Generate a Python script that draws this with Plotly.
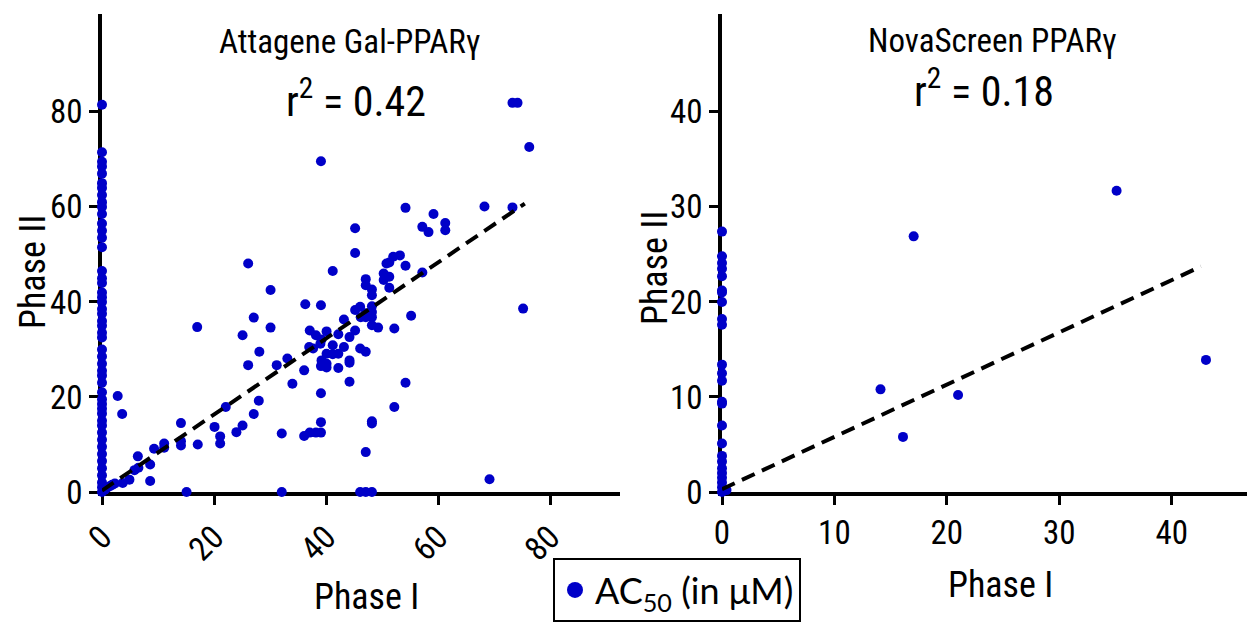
import numpy as np
import plotly.graph_objects as go

# ---------------- data ----------------
# Attagene Gal-PPARg : chemicals with Phase I AC50 = 0 (only active in Phase II)
att_axis_y = [81.5, 71.5, 69.5, 68.5, 67, 65, 64, 62.5, 61, 60, 58.5, 56.5, 55, 53.5, 51.5,
              46.5, 45, 44, 42, 41, 40, 38.5, 37.5, 36, 35, 33.5, 32.5, 30, 28.5, 27, 25.5,
              24.5, 23, 21, 19.5, 18.5, 17.5, 16.5, 15, 14, 12.5, 11, 9.5, 8, 6.5, 5, 3.5,
              2, 1, 0]
att_phase1 = [0.5, 0.8, 1.4, 1.8, 2.3, 3.7, 4.9, 5.8, 6.5, 6.4, 8.6, 8.6, 9.3, 11.1, 11.1,
              2.8, 3.6, 14.1, 14.1, 14.1, 17.1, 17.0, 15.1, 32.1, 46.1, 47.1, 48.2,
              20.1, 21.1, 21.1, 22.1, 24.0, 25.1, 26.1, 27.1, 28.0, 28.1, 25.1, 27.1, 26.1,
              30.1, 30.1, 31.2, 33.1, 34.0, 32.1, 36.1, 37.1, 38.2, 39.1, 39.1, 39.1, 36.1,
              36.3, 39.1, 39.1, 37.1, 38.2, 39.2, 40.1, 39.0, 37.7, 37.0, 41.2, 40.1, 39.2,
              40.1, 42.2, 44.2, 41.2, 42.2, 44.2, 44.2, 42.2, 43.2, 43.2, 44.2, 45.2, 46.1,
              47.1, 45.2, 46.1, 47.1, 48.2, 48.2, 49.3, 52.2, 55.2, 46.2, 48.2, 47.1, 48.2,
              40.1, 39.1, 41.2, 45.2, 45.2, 47.1, 47.1, 48.2, 48.2, 50.8, 52.0, 53.2, 51.3,
              50.3, 50.3, 51.3, 51.3, 54.2, 57.2, 54.2, 59.2, 57.2, 58.3, 61.3, 61.3, 68.3,
              73.3, 73.3, 74.2, 76.3, 75.2, 69.2, 54.2, 52.2, 48.2, 48.2, 47.1]
att_phase2 = [0.5, 0.8, 1.2, 1.5, 1.8, 1.9, 2.6, 4.6, 5.1, 7.5, 5.8, 2.3, 9.1, 10.2, 9.3,
              20.2, 16.4, 14.5, 10.7, 9.8, 10.0, 34.7, 0, 0, 0, 0, 0,
              13.7, 11.7, 10.2, 17.9, 12.6, 14.0, 26.7, 16.4, 19.2, 29.5, 33.0, 36.7, 48.1,
              42.5, 34.6, 26.7, 28.1, 22.8, 12.3, 11.8, 12.5, 12.5, 12.5, 14.7, 20.8, 25.6,
              39.5, 39.3, 69.6, 34.0, 33.0, 32.1, 33.8, 31.2, 30.2, 30.5, 30.9, 29.1, 27.7,
              27.0, 29.1, 27.7, 29.0, 26.1, 27.2, 23.2, 33.2, 36.3, 30.5, 32.6, 34.0, 30.2,
              29.5, 38.3, 39.0, 37.6, 37.9, 35.1, 34.6, 34.4, 37.1, 36.8, 39.1, 36.8, 36.8,
              26.2, 26.5, 46.5, 50.3, 55.5, 44.8, 43.5, 42.6, 41.4, 48.1, 49.5, 49.8, 48.3,
              46.0, 44.6, 43.0, 45.3, 47.6, 46.2, 59.8, 58.5, 55.8, 54.7, 56.6, 55.1, 60.1,
              59.9, 81.9, 81.9, 72.6, 38.6, 2.7, 23.0, 17.9, 14.9, 14.4, 8.4]

# NovaScreen PPARg
nova_axis_y = [27.4, 24.8, 24.1, 23.5, 22.7, 21.2, 21.0, 20.0, 18.2, 17.6, 13.4, 12.5,
               11.7, 9.5, 9.3, 7.0, 5.1, 3.8, 3.2, 2.5, 2.0, 1.5, 1.0, 0.5, 0]
nova_phase1 = [0.4, 14.1, 16.1, 17.05, 21.0, 35.1, 43.05]
nova_phase2 = [0.2, 10.8, 5.8, 26.9, 10.2, 31.7, 13.9]

# linear fits (slope, intercept, x extent)
att_fit = dict(slope=0.8, intercept=0.3, xmax=75.5, r2="0.42")
nova_fit = dict(slope=0.55, intercept=0.3, xmax=42.6, r2="0.18")

left_xticks = [0, 20, 40, 60, 80]
left_yticks = [0, 20, 40, 60, 80]
right_xticks = [0, 10, 20, 30, 40]
right_yticks = [0, 10, 20, 30, 40]

# ---------------- style ----------------
BLUE = "#0000C8"
NARROW = "Roboto Condensed, Liberation Sans Narrow, Arial Narrow, Roboto, sans-serif"
W, H = 1249, 632
MS = 10

fig = go.Figure()

def add_panel(ay_axis, p1, p2, fit, xa, ya):
    xs = [0] * len(ay_axis) + list(p1)
    ys = list(ay_axis) + list(p2)
    fig.add_trace(go.Scatter(x=xs, y=ys, mode="markers", xaxis=xa, yaxis=ya,
                             marker=dict(color=BLUE, size=MS, line=dict(width=0)),
                             cliponaxis=False, showlegend=False, hoverinfo="x+y"))
    fx = np.array([0.0, fit["xmax"]])
    fy = fit["intercept"] + fit["slope"] * fx
    fig.add_trace(go.Scatter(x=fx, y=fy, mode="lines", xaxis=xa, yaxis=ya,
                             line=dict(color="black", width=4, dash="14px,8px"),
                             cliponaxis=False, showlegend=False, hoverinfo="skip"))

add_panel(att_axis_y, att_phase1, att_phase2, att_fit, "x", "y")
add_panel(nova_axis_y, nova_phase1, nova_phase2, nova_fit, "x2", "y2")

# legend entry
fig.add_trace(go.Scatter(x=[None], y=[None], mode="markers", name="AC<sub>50</sub> (in μM)",
                         marker=dict(color=BLUE, size=30), showlegend=True))

def px(x):
    return x / W

def py(y):
    return 1 - y / H

axis_common = dict(showline=True, linewidth=3.5, linecolor="black", ticks="outside",
                   ticklen=9, tickwidth=3, tickcolor="black", showgrid=False,
                   zeroline=False, layer="below traces", mirror=False, automargin=False,
                   tickfont=dict(family=NARROW, size=33, color="black"))

fig.update_layout(
    width=W, height=H, margin=dict(l=0, r=0, t=0, b=0, autoexpand=False),
    paper_bgcolor="white", plot_bgcolor="white",
    xaxis=dict(domain=[px(102), px(620)], range=[0, 92.5], tickvals=left_xticks,
               tickangle=-45, anchor="y", **axis_common),
    yaxis=dict(domain=[py(492), py(14)], range=[0, 100.6], tickvals=left_yticks,
               anchor="x", **axis_common),
    xaxis2=dict(domain=[px(722), px(1247)], range=[0, 46.7], tickvals=right_xticks,
                tickangle=0, anchor="y2", **axis_common),
    yaxis2=dict(domain=[py(492), py(14)], range=[0, 50.3], tickvals=right_yticks,
                anchor="x2", **axis_common),
    legend=dict(x=px(553), y=py(558), xanchor="left", yanchor="top",
                bordercolor="black", borderwidth=2, bgcolor="white",
                font=dict(family="Lato, sans-serif", size=36, color="black"),
                itemsizing="trace"),
)

ann = [
    dict(text="Attagene Gal-PPARγ", x=px(350), y=py(41), size=33),
    dict(text="r<sup>2</sup> = " + att_fit["r2"], x=px(356), y=py(99), size=42),
    dict(text="NovaScreen PPARγ", x=px(992), y=py(40), size=33),
    dict(text="r<sup>2</sup> = " + nova_fit["r2"], x=px(984), y=py(89), size=42),
    dict(text="Phase I", x=px(366), y=py(597), size=36),
    dict(text="Phase I", x=px(1000), y=py(585), size=36),
]
for a in ann:
    fig.add_annotation(text=a["text"], x=a["x"], y=a["y"], xref="paper", yref="paper",
                       xanchor="center", yanchor="middle", showarrow=False,
                       font=dict(family=NARROW, size=a["size"], color="black"))
for xc, yc in [(33, 272), (655, 268)]:
    fig.add_annotation(text="Phase II", x=px(xc), y=py(yc), xref="paper", yref="paper",
                       xanchor="center", yanchor="middle", showarrow=False, textangle=-90,
                       font=dict(family=NARROW, size=36, color="black"))

fig.write_html("out.html", config={"displayModeBar": False},
               post_script="document.body.style.margin='0';"
                           "document.body.style.overflow='hidden';")
